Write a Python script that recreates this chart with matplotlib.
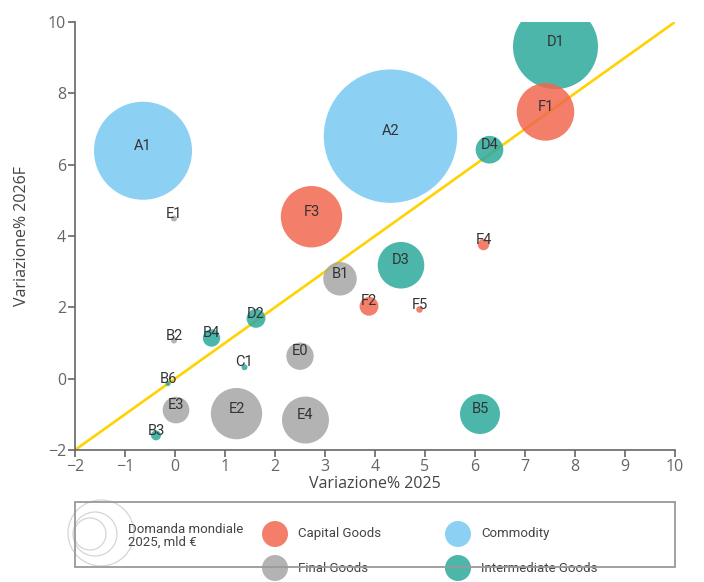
import matplotlib
matplotlib.use("Agg")
import matplotlib.pyplot as plt
from matplotlib.patches import Circle, Rectangle
import numpy as np

# ---- data ----
labels = ["A1", "A2", "D1", "F1", "D4", "F3", "E1", "F4", "D3", "B1", "F2", "F5",
          "D2", "B2", "B4", "E0", "C1", "B6", "E3", "E2", "E4", "B3", "B5"]
var_2025 = [-0.64, 4.31, 7.61, 7.41, 6.29, 2.73, -0.02, 6.17, 4.52, 3.30, 3.88, 4.89,
            1.62, -0.02, 0.73, 2.50, 1.39, -0.14, 0.02, 1.23, 2.61, -0.38, 6.10]
var_2026 = [6.39, 6.80, 9.31, 7.48, 6.42, 4.54, 4.49, 3.76, 3.18, 2.80, 2.03, 1.94,
            1.69, 1.07, 1.14, 0.63, 0.32, -0.14, -0.88, -0.98, -1.16, -1.59, -0.99]
domanda = [540, 1000, 406, 186, 43, 212, 2, 7.3, 122, 63, 20, 2.4,
           20, 2, 17, 42, 2, 1.4, 40, 148, 124, 5.6, 90]
group = ["Commodity", "Commodity", "Intermediate Goods", "Capital Goods", "Intermediate Goods",
         "Capital Goods", "Final Goods", "Capital Goods", "Intermediate Goods", "Final Goods",
         "Capital Goods", "Capital Goods", "Intermediate Goods", "Final Goods",
         "Intermediate Goods", "Final Goods", "Intermediate Goods", "Intermediate Goods",
         "Final Goods", "Final Goods", "Final Goods", "Intermediate Goods", "Intermediate Goods"]
groups = ["Capital Goods", "Commodity", "Final Goods", "Intermediate Goods"]
colors = {"Capital Goods": "#F2674F", "Commodity": "#78C8F2",
          "Final Goods": "#A6A6A6", "Intermediate Goods": "#2DA99C"}
x_ticks = [-2, -1, 0, 1, 2, 3, 4, 5, 6, 7, 8, 9, 10]
y_ticks = [-2, 0, 2, 4, 6, 8, 10]

W, H = 704, 582
fig = plt.figure(figsize=(W / 100, H / 100), dpi=100)
ax = fig.add_axes([75 / W, (H - 450) / H, 600 / W, 428 / H])

# diagonal y = x
ax.plot([-2, 10], [-2, 10], color="#FFD200", lw=1.9, zorder=1, solid_capstyle="butt")

# bubbles: radius in px = 66.7*sqrt(v/max)
r_max_px = 66.7
order = np.argsort(domanda)[::-1]
for i in order:
    r_px = r_max_px * np.sqrt(domanda[i] / max(domanda))
    d_pt = 2 * r_px * 0.72
    ax.scatter(var_2025[i], var_2026[i], s=d_pt ** 2, color=colors[group[i]],
               alpha=0.85, edgecolors="none", zorder=2)
for i in range(len(labels)):
    ax.annotate(labels[i], (var_2025[i], var_2026[i]), xytext=(0, 3.5),
                textcoords="offset points", ha="center", va="center",
                fontsize=10.5, color="#333333", family="Roboto", zorder=5)

ax.set_xlim(-2, 10)
ax.set_ylim(-2, 10)
ax.set_xticks(x_ticks)
ax.set_yticks(y_ticks)
for s in ["top", "right"]:
    ax.spines[s].set_visible(False)
for s in ["left", "bottom"]:
    ax.spines[s].set_color("#666666")
    ax.spines[s].set_linewidth(1.2)
ax.tick_params(axis="both", colors="#666666", length=5, width=1.2, labelsize=11.5,
               labelcolor="#666666", pad=1.5)
for t in ax.get_xticklabels() + ax.get_yticklabels():
    t.set_family("Open Sans")
ax.set_xlabel("Variazione% 2025", family="Open Sans", fontsize=11.5, color="#444444")
ax.set_ylabel("Variazione% 2026F", family="Open Sans", fontsize=11.5, color="#444444")
ax.xaxis.set_label_coords(0.5, (450 - 484) / 428)
ax.xaxis.label.set_va("center")
ax.yaxis.set_label_coords((22 - 75) / 600, 0.5)
ax.yaxis.label.set_va("center")
ax.yaxis.label.set_ha("center")

# ---- legend (pixel overlay) ----
lax = fig.add_axes([0, 0, 1, 1], zorder=10)
lax.set_xlim(0, W)
lax.set_ylim(H, 0)
lax.axis("off")
lax.patch.set_alpha(0)
for (cx, cy, rr) in [(101, 533, 33), (95, 534, 22), (90, 534, 16)]:
    lax.add_patch(Circle((cx, cy), rr, fill=False, edgecolor="#D5D5D5", lw=0.9, zorder=1))
lax.text(128, 536, "Domanda mondiale\n2025, mld €", family="Roboto", fontsize=9.5,
         color="#444444", va="center", ha="left", linespacing=0.95, zorder=2)
pos = {"Capital Goods": (275, 534), "Commodity": (458, 534),
       "Final Goods": (275, 568), "Intermediate Goods": (458, 568)}
for g in groups:
    cx, cy = pos[g]
    lax.add_patch(Circle((cx, cy), 13, color=colors[g], alpha=0.85, lw=0, zorder=1))
    lax.text(cx + 23, cy, g, family="Roboto", fontsize=9.5, color="#444444",
             va="center", ha="left", zorder=2)
lax.add_patch(Rectangle((75, 502), 600, 64.5, fill=False, edgecolor="#999999", lw=1.3, zorder=3))

fig.savefig("out.png", dpi=100)
